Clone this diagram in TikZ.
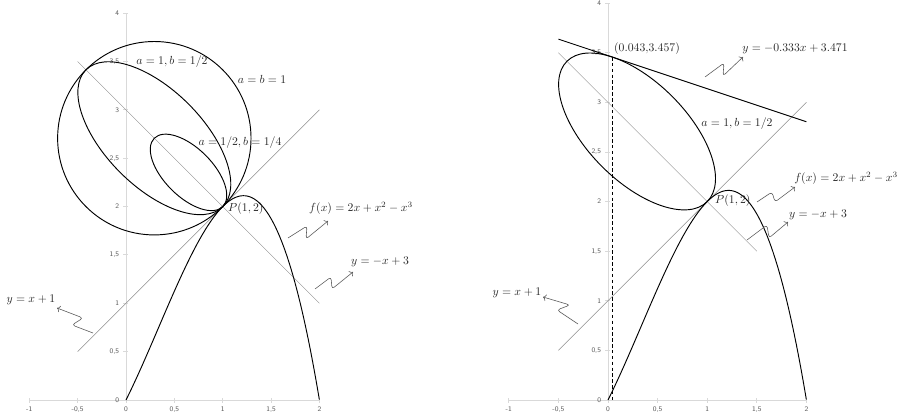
\documentclass[tikz,border=0pt]{standalone}
\usepackage{amsmath}
\usetikzlibrary{arrows.meta}

\definecolor{axisgray}{HTML}{D9D9D9}
\definecolor{ticktext}{HTML}{595959}
\definecolor{linegray}{HTML}{8C8C8C}

\tikzset{
  curve/.style={black, line width=0.8pt},
  helpline/.style={linegray, line width=0.4pt},
  axisline/.style={axisgray, line width=0.8pt},
  ticklab/.style={ticktext, font=\fontsize{6}{7}\selectfont\sffamily, inner sep=1pt},
  lab/.style={black!85, inner sep=0pt},
  squig/.style={->, ticktext, line width=0.5pt, rounded corners=2.5pt},
  dashline/.style={black, line width=0.7pt, dash pattern=on 3pt off 2pt},
}

% axes with ticks, in the units of the current scope
\newcommand{\plotaxes}{%
  \draw[axisline] (-1,0) -- (2,0);
  \draw[axisline] (0,0) -- (0,4);
  \foreach \t/\l in {-1/-1,-0.5/-0{,}5,0/0,0.5/0{,}5,1/1,1.5/1{,}5,2/2}
    \draw[axisline] (\t,0.02) -- (\t,-0.03) node[ticklab, below=2pt] {\l};
  \foreach \t/\l in {0/0,0.5/0{,}5,1/1,1.5/1{,}5,2/2,2.5/2{,}5,3/3,3.5/3{,}5,4/4}
    \draw[axisline] (0.02,\t) -- (-0.03,\t) node[ticklab, left=2pt] {\l};
}

\begin{document}
\begin{tikzpicture}[x=0.03cm, y=0.03cm]
\useasboundingbox (0,0) rectangle (897,419);

% left graph
\begin{scope}[shift={(126,19)}, x=2.901cm, y=2.901cm]
  \plotaxes
  \coordinate (Pl) at (1,2);
  \coordinate (Cl) at (0.2929,2.7071);
  \coordinate (Dl) at (0.6464,2.3536);
  \draw[helpline] (-0.5,0.5) -- (2,3);
  \draw[helpline] (-0.5,3.5) -- (2,1);
  \draw[curve] plot[domain=0:2, samples=120] (\x,{2*\x+\x*\x-\x*\x*\x});
  \draw[curve] (Cl) circle (1);
  \draw[curve, rotate around={135:(Cl)}] (Cl) ellipse (1 and 0.5);
  \draw[curve, rotate around={135:(Dl)}] (Dl) ellipse (0.5 and 0.25);
\end{scope}

\node[lab] (ab1) at (172,357) {$a=1,b=1/2$};
\node[lab] (ab2) at (262,340) {$a=b=1$};
\node[lab] (ab3) at (240,276) {$a=1/2,b=1/4$};
\node[lab, anchor=west] (pl) at (228,210) {$P(1,2)$};
\node[lab] (fl) at (361,211) {$f(x)=2x+x^2-x^3$};
\node[lab] (nl) at (380,157) {$y=-x+3$};
\node[lab] (tl) at (31,119) {$y=x+1$};

\coordinate (sfl) at (288,181);
\coordinate (efl) at (328,198);
\coordinate (snl) at (315,130);
\coordinate (enl) at (353,147);
\coordinate (stl) at (93,86);
\coordinate (etl) at (57,111);
\draw[squig] (sfl) -- ++(19,12) -- ++(-1,-13) -- (efl);
\draw[squig] (snl) -- ++(16,12) -- ++(1,-12) -- (enl);
\draw[squig] (stl) -- ++(-21,8) -- ++(11,7) -- (etl);

% right graph
\begin{scope}[shift={(608,19)}, x=2.976cm, y=2.976cm]
  \plotaxes
  \coordinate (Pr) at (1,2);
  \coordinate (Cr) at (0.2929,2.7071);
  \coordinate (Tr) at (0.043,3.457);
  \draw[helpline] (-0.5,0.5) -- (2,3);
  \draw[helpline] (-0.5,3.5) -- (1.5,1.5);
  \draw[dashline] (Tr) -- (0.043,0);
  \draw[curve] (-0.5,3.6375) -- (2,2.805);
  \draw[curve] plot[domain=0:2, samples=120] (\x,{2*\x+\x*\x-\x*\x*\x});
  \draw[curve, rotate around={135:(Cr)}] (Cr) ellipse (1 and 0.5);
\end{scope}

\node[lab] (tpt) at (647,370) {$(0.043{,}3.457)$};
\node[lab] (tgr) at (795,370) {$y=-0.333x+3.471$};
\node[lab] (abr) at (737,295) {$a=1,b=1/2$};
\node[lab, anchor=west] (pr) at (715,218) {$P(1,2)$};
\node[lab] (fr) at (846,241) {$f(x)=2x+x^2-x^3$};
\node[lab] (nr) at (818,204) {$y=-x+3$};
\node[lab] (tr) at (517,126) {$y=x+1$};

\coordinate (sgr) at (705,342);
\coordinate (egr) at (743,362);
\coordinate (sfr) at (757,217);
\coordinate (efr) at (795,232);
\coordinate (snr) at (747,179);
\coordinate (enr) at (788,197);
\coordinate (str) at (578,95);
\coordinate (etr) at (543,122);
\draw[squig] (sgr) -- ++(19,14) -- ++(-1,-13) -- (egr);
\draw[squig] (sfr) -- ++(15,10) -- ++(3,-10) -- (efr);
\draw[squig] (snr) -- ++(20,15) -- ++(2,-13) -- (enr);
\draw[squig] (str) -- ++(-21,14) -- ++(13,5) -- (etr);
\end{tikzpicture}
\end{document}
